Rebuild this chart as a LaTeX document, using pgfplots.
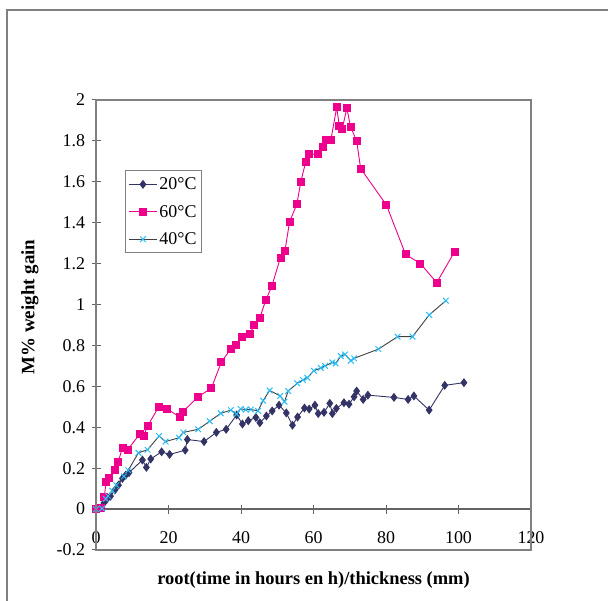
\documentclass[border=0pt]{standalone}
\usepackage{fontspec}
\setmainfont{Liberation Serif}
\usepackage{pgfplots}
\pgfplotsset{compat=1.18}
\definecolor{navy}{RGB}{51,51,102}
\definecolor{mag}{RGB}{236,0,140}
\definecolor{cyn}{RGB}{40,190,245}
\definecolor{frm}{RGB}{128,128,128}
\definecolor{axc}{RGB}{100,100,100}
\begin{document}
\begin{tikzpicture}[x=1bp,y=1bp]
\useasboundingbox (0,0) rectangle (608,601);
\draw[frm, line width=1.5bp] (7,0) -- (7,591) -- (608,591);
\begin{axis}[
  name=ax,
  at={(96bp,51bp)}, anchor=south west,
  scale only axis, width=435bp, height=450bp,
  xmin=0, xmax=120, ymin=-0.2, ymax=2,
  axis lines=middle,
  axis line style={-, draw=axc, line width=1.2bp},
  hide obscured x ticks=false, hide obscured y ticks=false,
  xtick={0,20,40,60,80,100,120},
  ytick={-0.2,0,0.2,0.4,0.6,0.8,1,1.2,1.4,1.6,1.8,2},
  tick align=center, major tick length=9bp,
  tick style={draw=axc, line width=1bp},
  /pgf/number format/assume math mode=true,
  ticklabel style={font=\fontsize{18}{20}\selectfont},
  xticklabel style={yshift=-14bp},
  yticklabel style={xshift=-3bp},
  xlabel={root(time in hours en h)/thickness (mm)},
  ylabel={M\% weight gain},
  every axis x label/.style={at={(axis description cs:0.5,-0.067)}, anchor=center, font=\bfseries\fontsize{18.5}{20}\selectfont},
  every axis y label/.style={at={(axis description cs:-0.152,0.54)}, anchor=center, rotate=90, font=\bfseries\fontsize{19}{20}\selectfont},
  clip=false,
  legend cell align=left,
  legend style={at={(axis description cs:0.0667,0.844)}, anchor=north west,
    draw=frm, line width=1bp, fill=white,
    font=\fontsize{18}{20}\selectfont, row sep=10bp, inner xsep=3bp, inner ysep=5bp},
  legend image code/.code={\draw[mark repeat=2,mark phase=2] plot coordinates {(0bp,0bp) (14bp,0bp) (28bp,0bp)};},
]
\addplot[navy, line width=0.9bp, mark=diamond*, mark size=3.8bp, mark options={fill=navy, draw=navy}] coordinates {
(0,0) (1.6,0.01) (2.2,0.03) (3.1,0.05) (4,0.063) (5.2,0.093) (6.2,0.117) (7.3,0.15) (8.2,0.166) (9.1,0.178)
(12.8,0.24) (13.9,0.204) (15.1,0.245) (18.1,0.28) (20.3,0.267) (24.6,0.288) (25.2,0.34) (29.8,0.33) (33.2,0.375)
(35.9,0.39) (38.8,0.46) (40.4,0.416) (42,0.432) (44.1,0.448) (45.2,0.422) (47,0.455) (48.6,0.48) (50.5,0.508)
(52.5,0.47) (54.2,0.41) (55.6,0.45) (57.5,0.494) (58.8,0.489) (60.4,0.508) (61.3,0.467) (62.9,0.473) (64.5,0.517)
(65.2,0.467) (66.3,0.492) (68.4,0.52) (69.8,0.513) (71.2,0.549) (71.9,0.577) (73.7,0.536) (75,0.557) (82.2,0.546)
(86.1,0.536) (87.7,0.553) (91.9,0.484) (96.2,0.605) (101.5,0.618)
};
\addlegendentry{20°C}
\addplot[mag, line width=0.9bp, mark=square*, mark size=3.5bp, mark options={fill=mag, draw=mag}] coordinates {
(0,0) (1.5,0.005) (2.3,0.06) (2.8,0.135) (3.6,0.152) (5.2,0.19) (6.1,0.23) (7.3,0.30) (8.7,0.29) (12.0,0.365)
(13.2,0.36) (14.2,0.405) (17.3,0.50) (19.6,0.49) (23.1,0.45) (23.9,0.475) (28.2,0.55) (31.8,0.59) (34.6,0.72)
(37.3,0.785) (38.7,0.80) (40.2,0.84) (42.4,0.855) (43.7,0.90) (45.2,0.935) (46.8,1.02) (48.5,1.09) (50.9,1.23)
(52.1,1.26) (53.4,1.405) (55.4,1.49) (56.5,1.60) (57.8,1.695) (58.8,1.735) (61.3,1.735) (62.7,1.77) (63.5,1.805)
(64.8,1.805) (66.4,1.965) (67.1,1.875) (67.9,1.857) (69.2,1.96) (70.2,1.87) (71.9,1.80) (73.0,1.665) (80.1,1.487)
(85.4,1.245) (89.5,1.20) (94.0,1.107) (98.9,1.258)
};
\addlegendentry{60°C}
\addplot[black!75, line width=0.9bp, mark=x, mark size=4bp, mark options={draw=cyn, line width=1bp}] coordinates {
(0,0) (1.7,0.003) (2.7,0.05) (3.3,0.064) (4.5,0.09) (5.6,0.117) (7.7,0.16) (8.9,0.19) (11.7,0.275) (14.2,0.29)
(17.4,0.357) (19.2,0.33) (22.9,0.349) (24.1,0.375) (28.2,0.39) (31.4,0.43) (34.4,0.468) (37.2,0.484) (38.8,0.465)
(39.9,0.49) (41.3,0.486) (42.7,0.487) (44.7,0.48) (46.1,0.53) (47.9,0.58) (50.8,0.553) (52,0.525) (53,0.577)
(55.5,0.615) (57.1,0.631) (58.3,0.642) (60.1,0.676) (62,0.69) (63.2,0.70) (65.2,0.717) (66.1,0.712) (67.5,0.748)
(68.7,0.756) (70.3,0.725) (71.2,0.737) (77.9,0.782) (83.2,0.843) (87.3,0.843) (91.9,0.949) (96.5,1.019)
};
\addlegendentry{40°C}
\end{axis}
\draw[frm, line width=1.2bp] (ax.south west) rectangle (ax.north east);
\end{tikzpicture}
\end{document}
